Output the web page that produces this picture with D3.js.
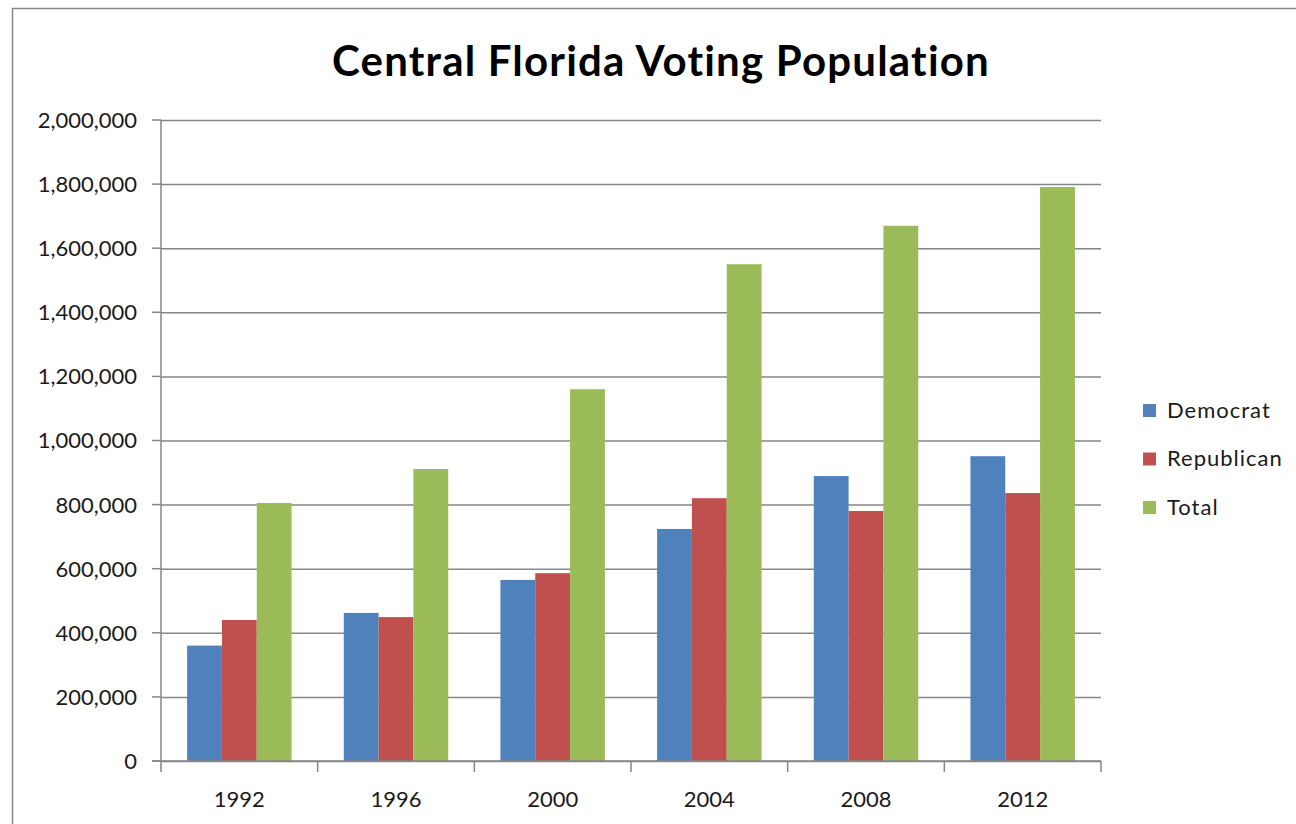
<!DOCTYPE html>
<html>
<head>
<meta charset="utf-8">
<script src="https://cdn.jsdelivr.net/npm/d3@7"></script>
<style>
  body { margin: 0; background: #fff; }
  svg { display: block; }
</style>
</head>
<body>
<div id="chart"></div>
<script>
// data
const years = ["1992", "1996", "2000", "2004", "2008", "2012"];
const seriesNames = ["Democrat", "Republican", "Total"];
const democrat   = [360000, 462000, 565000, 724000, 889000, 951000];
const republican = [440000, 449000, 586000, 820000, 780000, 836000];
const total      = [805000, 911000, 1160000, 1550000, 1670000, 1791000];
const yTicks = [0, 200000, 400000, 600000, 800000, 1000000, 1200000, 1400000, 1600000, 1800000, 2000000];
const colors = ["#4F81BD", "#C0504D", "#9BBB59"];

const width = 1296, height = 824;
const plotLeft = 161, plotRight = 1101, plotTop = 120, plotBottom = 761;

const svg = d3.select("#chart").append("svg")
    .attr("width", width)
    .attr("height", height);

// chart border
svg.append("rect")
    .attr("x", 12.5).attr("y", 8.5)
    .attr("width", width).attr("height", height)
    .attr("fill", "#fff")
    .attr("stroke", "#868686")
    .attr("stroke-width", 1.5);

const x = d3.scaleBand().domain(years).range([plotLeft, plotRight]).paddingInner(0).paddingOuter(0);
const y = d3.scaleLinear().domain([0, 2000000]).range([plotBottom, plotTop]);

// bars: gap width 150% -> group width = 4.5 bar widths
const barW = x.bandwidth() / 4.5;
const inner = d3.scaleBand().domain(seriesNames)
    .range([barW * 0.75, barW * 3.75]).padding(0);

// gridlines
const grid = svg.append("g").attr("transform", "translate(" + plotLeft + ",0)")
    .call(d3.axisLeft(y).tickValues(yTicks).tickSize(-(plotRight - plotLeft)).tickFormat(""));
grid.select(".domain").remove();
grid.selectAll("line").attr("stroke", "#868686").attr("stroke-width", 1.5);

// small tick stubs left of axis
svg.append("g").selectAll("line").data(yTicks).enter().append("line")
    .attr("x1", plotLeft - 9).attr("x2", plotLeft)
    .attr("y1", d => y(d)).attr("y2", d => y(d))
    .attr("stroke", "#868686").attr("stroke-width", 1.5);

const rows = years.map((yr, i) => ({ year: yr, values: [democrat[i], republican[i], total[i]] }));

const groups = svg.append("g").selectAll("g").data(rows).enter().append("g")
    .attr("transform", d => "translate(" + x(d.year) + ",0)");

groups.selectAll("rect")
    .data(d => d.values.map((v, k) => ({ name: seriesNames[k], value: v, k: k })))
    .enter().append("rect")
    .attr("x", d => inner(d.name))
    .attr("width", inner.bandwidth())
    .attr("y", d => y(d.value))
    .attr("height", d => y(0) - y(d.value))
    .attr("fill", d => colors[d.k]);

// y axis line
svg.append("line")
    .attr("x1", plotLeft).attr("x2", plotLeft).attr("y1", plotTop).attr("y2", plotBottom)
    .attr("stroke", "#868686").attr("stroke-width", 1.5);

// x axis with category tick marks at group boundaries
svg.append("line")
    .attr("x1", plotLeft - 9).attr("x2", plotRight).attr("y1", plotBottom).attr("y2", plotBottom)
    .attr("stroke", "#868686").attr("stroke-width", 1.5);
const bounds = years.map(d => x(d)).concat([plotRight]);
svg.append("g").selectAll("line").data(bounds).enter().append("line")
    .attr("x1", d => d).attr("x2", d => d)
    .attr("y1", plotBottom).attr("y2", plotBottom + 11)
    .attr("stroke", "#868686").attr("stroke-width", 1.5);

const fnt = "Lato, 'Open Sans', sans-serif";
const fmt = d3.format(",");

// y tick labels
svg.append("g").selectAll("text").data(yTicks).enter().append("text")
    .attr("x", 137)
    .attr("y", d => y(d))
    .attr("dy", "0.36em")
    .attr("text-anchor", "end")
    .style("font-family", fnt)
    .style("font-size", "22px")
    .style("fill", "#1a1a1a")
    .text(d => fmt(d));

// x tick labels
svg.append("g").selectAll("text").data(years).enter().append("text")
    .attr("x", d => x(d) + x.bandwidth() / 2)
    .attr("y", 807)
    .attr("text-anchor", "middle")
    .style("font-family", fnt)
    .style("font-size", "22px")
    .style("fill", "#1a1a1a")
    .text(d => d);

// title
svg.append("text")
    .attr("x", 661)
    .attr("y", 76)
    .attr("text-anchor", "middle")
    .style("font-family", fnt)
    .style("font-weight", "bold")
    .style("font-size", "42px")
    .style("letter-spacing", "1.2px")
    .style("fill", "#000")
    .text("Central Florida Voting Population");

// legend
const legend = svg.append("g").selectAll("g").data(seriesNames).enter().append("g")
    .attr("transform", (d, i) => "translate(1143," + (410 + i * 48.5) + ")");
legend.append("rect")
    .attr("x", 0).attr("y", -6)
    .attr("width", 13).attr("height", 13)
    .attr("fill", (d, i) => colors[i]);
legend.append("text")
    .attr("x", 24).attr("y", 0).attr("dy", "0.36em")
    .style("font-family", fnt)
    .style("font-size", "22px")
    .style("letter-spacing", "1px")
    .style("fill", "#1a1a1a")
    .text(d => d);
</script>
</body>
</html>
